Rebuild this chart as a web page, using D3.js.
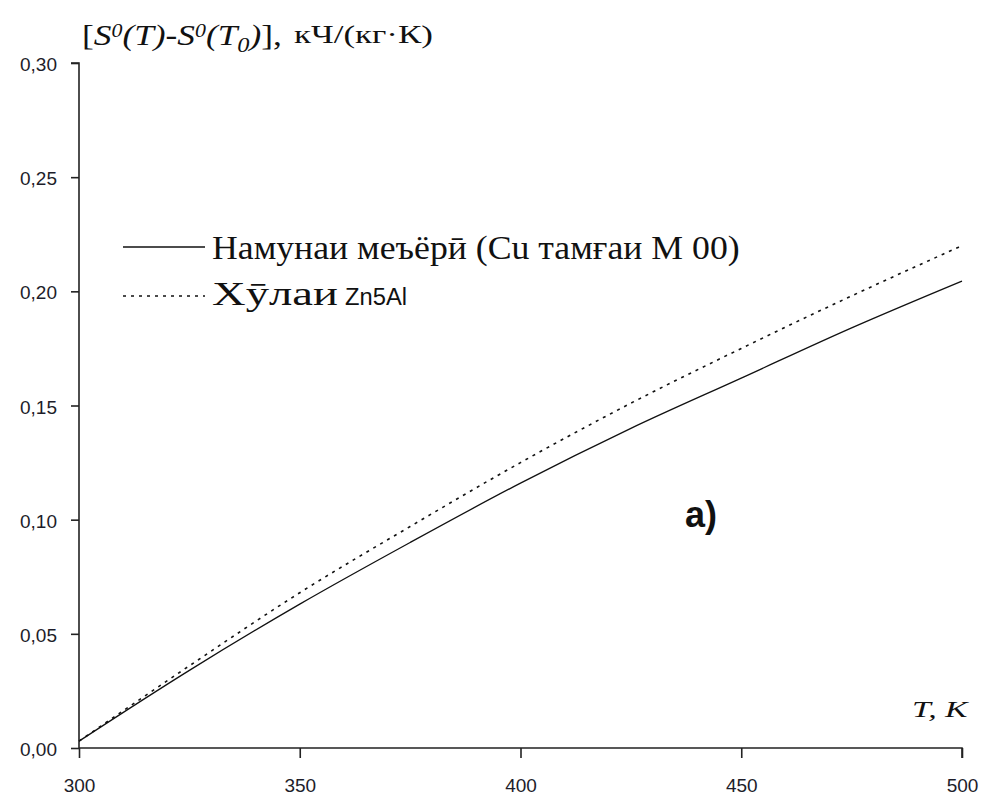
<!DOCTYPE html>
<html>
<head>
<meta charset="utf-8">
<script src="https://cdn.jsdelivr.net/npm/d3@7"></script>
<style>
  html, body { margin: 0; padding: 0; background: #fff; }
  svg { display: block; }
  .tick text { font-family: "Liberation Sans", Arial, sans-serif; font-size: 19px; fill: #1d1d2a; }
</style>
</head>
<body>
<svg id="chart" width="987" height="802"></svg>
<script>
// Temperature grid, K
const temperatures = [300, 325, 350, 375, 400, 425, 450, 475, 500];
// Entropy change S0(T) - S0(T0), kJ/(kg·K)
const copperM00 = [0.003, 0.034, 0.063, 0.090, 0.116, 0.140, 0.162, 0.184, 0.2045];
const alloyZn5Al = [0.003, 0.036, 0.068, 0.097, 0.125, 0.151, 0.175, 0.198, 0.220];

const xTicks = [300, 350, 400, 450, 500];
const yTicks = [0, 0.05, 0.10, 0.15, 0.20, 0.25, 0.30];

const seriesNames = ["Намунаи меъёрӣ (Cu тамғаи М 00)", "Хӯлаи", "Zn5Al"];

const svg = d3.select("#chart");
const plot = { left: 79, right: 962, top: 63, bottom: 748 };
const serif = "Liberation Serif, Times New Roman, serif";
const sans = "Liberation Sans, Arial, sans-serif";

const x = d3.scaleLinear().domain([300, 500]).range([plot.left, plot.right]);
const y = d3.scaleLinear().domain([0, 0.30]).range([plot.bottom, plot.top]);

const fmt = d => d3.format(".2f")(d).replace(".", ",");

// Stretch a text element horizontally so it spans the given width from x0
function fitWidth(sel, x0, yBase, width) {
  const w = sel.node().getBBox().width;
  sel.attr("transform", `translate(${x0},${yBase}) scale(${width / w},1)`);
}

// Axes
const xAxis = svg.append("g")
  .attr("transform", `translate(0,${plot.bottom})`)
  .call(d3.axisBottom(x).tickValues(xTicks).tickSize(10).tickFormat(d3.format("d")));
const yAxis = svg.append("g")
  .attr("transform", `translate(${plot.left},0)`)
  .call(d3.axisLeft(y).tickValues(yTicks).tickSize(8).tickFormat(fmt));
[xAxis, yAxis].forEach(g => {
  g.selectAll(".domain").attr("stroke", "#222").attr("stroke-width", 1.6);
  g.selectAll(".tick line").attr("stroke", "#222").attr("stroke-width", 1.6);
});
xAxis.select(".domain").attr("d", `M${plot.left},0H${plot.right}V10`);
yAxis.select(".domain").attr("d", `M-8,${plot.top}H0V${plot.bottom}`);
xAxis.selectAll(".tick text").attr("y", 44).attr("dy", 0);
yAxis.selectAll(".tick text").attr("x", -22).attr("dy", 0).attr("y", 7.5);

// Curves
const line = d3.line()
  .x((d, i) => x(temperatures[i]))
  .y(d => y(d))
  .curve(d3.curveMonotoneX);

svg.append("path").datum(copperM00)
  .attr("d", line).attr("fill", "none")
  .attr("stroke", "#111").attr("stroke-width", 1.3);
svg.append("path").datum(alloyZn5Al)
  .attr("d", line).attr("fill", "none")
  .attr("stroke", "#111").attr("stroke-width", 1.6)
  .attr("stroke-dasharray", "3,5");

// Legend
const legend = svg.append("g");
legend.append("line").attr("x1", 123).attr("x2", 205).attr("y1", 247).attr("y2", 247)
  .attr("stroke", "#111").attr("stroke-width", 1.3);
legend.append("line").attr("x1", 123).attr("x2", 205).attr("y1", 296).attr("y2", 296)
  .attr("stroke", "#111").attr("stroke-width", 1.6).attr("stroke-dasharray", "3,5");
const l1 = legend.append("text")
  .attr("font-family", serif).attr("font-size", 33).attr("fill", "#111").text(seriesNames[0]);
fitWidth(l1, 212, 259, 528);
const l2 = legend.append("text")
  .attr("font-family", serif).attr("font-size", 33).attr("fill", "#111").text(seriesNames[1]);
fitWidth(l2, 212, 305, 126);
const l3 = legend.append("text")
  .attr("font-family", sans).attr("font-size", 24).attr("fill", "#111").text(seriesNames[2]);
fitWidth(l3, 345, 305, 62);

// Y axis title
const ytA = svg.append("text")
  .attr("font-family", serif).attr("font-size", 29).attr("fill", "#111");
ytA.append("tspan").text("[");
ytA.append("tspan").attr("font-style", "italic").text("S");
ytA.append("tspan").attr("font-style", "italic").attr("font-size", 18).attr("dy", -8).text("0");
ytA.append("tspan").attr("font-style", "italic").attr("dy", 8).text("(T)-S");
ytA.append("tspan").attr("font-style", "italic").attr("font-size", 18).attr("dy", -8).text("0");
ytA.append("tspan").attr("font-style", "italic").attr("dy", 8).text("(T");
ytA.append("tspan").attr("font-style", "italic").attr("font-size", 20).attr("dy", 7).text("0");
ytA.append("tspan").attr("font-style", "italic").attr("dy", -7).text(")");
ytA.append("tspan").text("],");
fitWidth(ytA, 82, 45, 200);
const ytB = svg.append("text")
  .attr("font-family", serif).attr("font-size", 26).attr("fill", "#111").text("кЧ/(кг·К)");
fitWidth(ytB, 294, 43, 139);

// X axis title
const xt = svg.append("text")
  .attr("font-family", serif).attr("font-style", "italic").attr("font-size", 23)
  .attr("fill", "#111").text("T, K");
fitWidth(xt, 912, 717, 58);

// Panel label
svg.append("text").attr("x", 685).attr("y", 527)
  .attr("font-family", sans).attr("font-weight", "bold")
  .attr("font-size", 36).attr("fill", "#111").text("а)");
</script>
</body>
</html>
